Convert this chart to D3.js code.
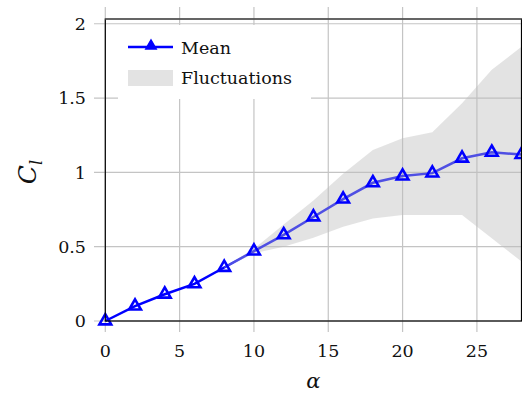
<!DOCTYPE html>
<html>
<head>
<meta charset="utf-8">
<script src="https://cdn.jsdelivr.net/npm/d3@7"></script>
<style>
  body { margin: 0; background: #fff; }
  text { font-family: "DejaVu Serif", serif; fill: #111; }
</style>
</head>
<body>
<svg width="522" height="394"></svg>
<script>
// Valores: ângulo de ataque e coeficiente de sustentação
var alfa = [0, 2, 4, 6, 8, 10, 12, 14, 16, 18, 20, 22, 24, 26, 28];
var clMedio = [0, 0.10, 0.18, 0.25, 0.36, 0.47, 0.58, 0.70, 0.82, 0.93, 0.975, 0.995, 1.095, 1.135, 1.12];

// Faixa de flutuações (só a partir de alfa = 8)
var alfaFaixa = [8, 10, 12, 14, 16, 18, 20, 22, 24, 26, 28];
var faixaSup = [0.365, 0.485, 0.65, 0.81, 0.99, 1.15, 1.23, 1.27, 1.465, 1.69, 1.845];
var faixaInf = [0.355, 0.455, 0.50, 0.56, 0.635, 0.69, 0.713, 0.713, 0.713, 0.557, 0.40];

var ticksX = [0, 5, 10, 15, 20, 25];
var ticksY = [0, 0.5, 1, 1.5, 2];

var svg = d3.select("svg");
var esq = 105.3, dir = 521.5, topo = 19, base = 321;

var x = d3.scaleLinear().domain([0, 28]).range([esq, dir]);
var y = d3.scaleLinear().domain([0, 2.032]).range([base, topo]);

var corGrade = "#c4c4c4";
var tamFonte = 17.5;

// grade + marcas (as marcas continuam as linhas da grade para fora do eixo)
svg.append("g").selectAll("line").data(ticksX).enter().append("line")
  .attr("x1", d => x(d)).attr("x2", d => x(d))
  .attr("y1", 7).attr("y2", 332)
  .attr("stroke", corGrade).attr("stroke-width", 1.2);
svg.append("g").selectAll("line").data(ticksY).enter().append("line")
  .attr("x1", 94).attr("x2", 530)
  .attr("y1", d => y(d)).attr("y2", d => y(d))
  .attr("stroke", corGrade).attr("stroke-width", 1.2);

// linha média
var linha = d3.line().x((d, i) => x(alfa[i])).y(d => y(d));
svg.append("path").datum(clMedio)
  .attr("d", linha)
  .attr("fill", "none")
  .attr("stroke", "#0000ff")
  .attr("stroke-width", 2.5);

// faixa de flutuações, por cima da linha
var area = d3.area()
  .x((d, i) => x(alfaFaixa[i]))
  .y0((d, i) => y(faixaInf[i]))
  .y1(d => y(d));
svg.append("path").datum(faixaSup)
  .attr("d", area)
  .attr("fill", "#bdbdbd")
  .attr("fill-opacity", 0.42);

// marcadores triangulares
function triangulo(r) {
  return "M0," + (-r) + "L" + (r * 0.866) + "," + (r / 2) + "L" + (-r * 0.866) + "," + (r / 2) + "Z";
}
svg.append("g").selectAll("path").data(clMedio).enter().append("path")
  .attr("transform", (d, i) => "translate(" + x(alfa[i]) + "," + y(d) + ")")
  .attr("d", triangulo(6.8))
  .attr("fill", "none")
  .attr("stroke", "#0000ff")
  .attr("stroke-width", 2.6);

// moldura
svg.append("rect")
  .attr("x", esq).attr("y", topo)
  .attr("width", dir - esq).attr("height", base - topo)
  .attr("fill", "none").attr("stroke", "#000").attr("stroke-width", 1.2);
svg.append("line").attr("x1", esq).attr("x2", dir).attr("y1", topo).attr("y2", topo)
  .attr("stroke", "#666").attr("stroke-width", 1.4);

// rótulos dos eixos
svg.append("g").selectAll("text").data(ticksX).enter().append("text")
  .attr("x", d => x(d)).attr("y", 357)
  .attr("text-anchor", "middle")
  .attr("font-size", tamFonte)
  .text(d => d);
svg.append("g").selectAll("text").data(ticksY).enter().append("text")
  .attr("x", 86).attr("y", d => y(d)).attr("dy", "0.36em")
  .attr("text-anchor", "end")
  .attr("font-size", tamFonte)
  .text(d => d);

svg.append("text")
  .attr("x", x(14)).attr("y", 388)
  .attr("text-anchor", "middle")
  .attr("font-size", 21).attr("font-style", "italic")
  .text("α");

var rotY = svg.append("text")
  .attr("transform", "translate(36,172) rotate(-90)")
  .attr("text-anchor", "middle")
  .attr("font-size", 25).attr("font-style", "italic");
rotY.append("tspan").text("C");
rotY.append("tspan").attr("dy", 6).attr("font-size", 16).text("l");

// legenda
var leg = svg.append("g");
leg.append("rect").attr("x", 118).attr("y", 25).attr("width", 193).attr("height", 74).attr("fill", "#fff");
leg.append("line").attr("x1", 128).attr("x2", 173).attr("y1", 47).attr("y2", 47)
  .attr("stroke", "#0000ff").attr("stroke-width", 2.5);
leg.append("path").attr("transform", "translate(151,46)").attr("d", triangulo(5.5))
  .attr("fill", "#0000ff").attr("stroke", "#0000ff").attr("stroke-width", 2);
leg.append("text").attr("x", 181).attr("y", 54).attr("font-size", tamFonte).text("Mean");
leg.append("rect").attr("x", 128).attr("y", 70).attr("width", 45).attr("height", 16)
  .attr("fill", "#bdbdbd").attr("fill-opacity", 0.42);
leg.append("text").attr("x", 181).attr("y", 84).attr("font-size", tamFonte).text("Fluctuations");
</script>
</body>
</html>
